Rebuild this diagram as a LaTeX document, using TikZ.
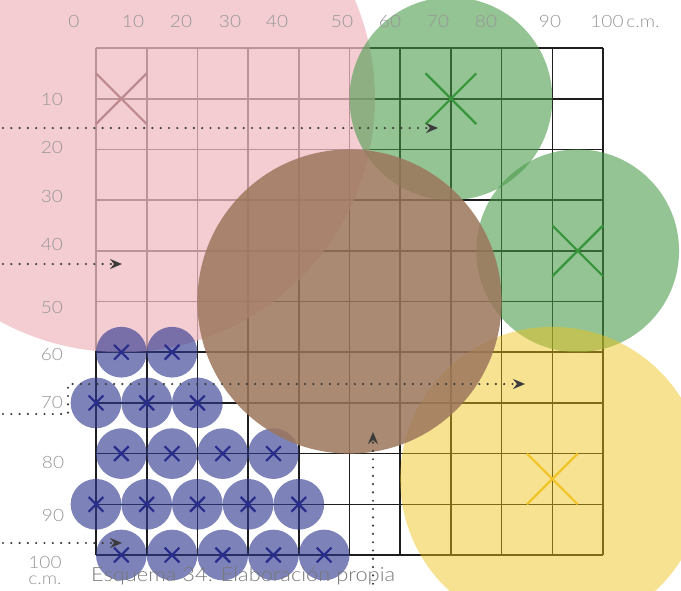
\documentclass[tikz,border=0pt]{standalone}
\usepackage{fontspec}
\setmainfont{Lato Light}[FakeStretch=1.12]
\usetikzlibrary{arrows.meta}
\definecolor{pinkc}{RGB}{239,188,195}
\definecolor{greenc}{RGB}{71,153,71}
\definecolor{brownc}{RGB}{156,118,92}
\definecolor{yellowc}{RGB}{236,194,20}
\definecolor{bluec}{RGB}{49,57,144}
\definecolor{pinkx}{RGB}{188,138,143}
\definecolor{greenx}{RGB}{55,150,60}
\definecolor{yellowx}{RGB}{242,196,40}
\definecolor{bluex}{RGB}{40,45,140}
\definecolor{labgray}{RGB}{150,150,150}
\definecolor{capgray}{RGB}{120,120,120}
\definecolor{dotc}{RGB}{60,60,60}
\definecolor{gridc}{RGB}{30,30,30}
\tikzset{
  lab/.style={text=labgray, inner sep=0pt, font=\fontsize{17}{18}\selectfont},
  gridline/.style={draw=gridc, line width=1.6pt},
  dotline/.style={draw=dotc, line width=2.4pt, line cap=round, dash pattern=on 0pt off 8.3pt,
    -{Stealth[length=12pt,width=10pt,inset=4pt]}},
  bigx/.pic={\draw[line width=2.2pt] (-5,-5) -- (5,5) (-5,5) -- (5,-5);},
  smallx/.pic={\draw[line width=2.2pt, bluex] (-1.45,-1.45) -- (1.45,1.45) (-1.45,1.45) -- (1.45,-1.45);},
}
\begin{document}
\begin{tikzpicture}[x=1pt,y=-1pt]
\useasboundingbox (0,0) rectangle (681,590);
% grid and shapes
\begin{scope}[shift={(96,48)}, x=5.07pt, y=-5.07pt]
  \foreach \i in {0,10,...,100} {
    \draw[gridline] (\i,0) -- (\i,100);
    \draw[gridline] (0,\i) -- (100,\i);
  }
  \fill[pinkc, opacity=0.75] (5,10) circle[radius=253.5pt];
  \fill[greenc, opacity=0.58] (70,10) circle[radius=101.4pt];
  \fill[greenc, opacity=0.58] (95,40) circle[radius=101.4pt];
  \fill[yellowc, opacity=0.47] (90,85) circle[radius=152.1pt];
  \foreach \p in {(5,60),(15,60),(0,70),(10,70),(20,70),(5,80),(15,80),(25,80),(35,80),
                  (0,90),(10,90),(20,90),(30,90),(40,90),(5,100),(15,100),(25,100),(35,100),(45,100)}
    \fill[bluec, opacity=0.63] \p circle[radius=25.35pt];
  \fill[brownc, opacity=0.85] (50,50) circle[radius=152.1pt];
  \pic[pinkx] at (5,10) {bigx};
  \pic[greenx] at (70,10) {bigx};
  \pic[greenx] at (95,40) {bigx};
  \pic[yellowx] at (90,85) {bigx};
  \foreach \p in {(5,60),(15,60),(0,70),(10,70),(20,70),(5,80),(15,80),(25,80),(35,80),
                  (0,90),(10,90),(20,90),(30,90),(40,90),(5,100),(15,100),(25,100),(35,100),(45,100)}
    \pic at \p {smallx};
\end{scope}
% dotted arrows
\coordinate (a1s) at (3,128);  \coordinate (a1e) at (438,128);
\coordinate (a2s) at (3,264);  \coordinate (a2e) at (122,264);
\coordinate (a3s) at (3,414);  \coordinate (a3m) at (68,414); \coordinate (a3n) at (68,384); \coordinate (a3e) at (525,384);
\coordinate (a4s) at (3,543);  \coordinate (a4e) at (122,543);
\coordinate (a5s) at (373,592); \coordinate (a5e) at (373,432);
\draw[dotline] (a1s) -- (a1e);
\draw[dotline] (a2s) -- (a2e);
\draw[dotline] (a3s) -- (a3m) -- (a3n) -- (a3e);
\draw[dotline] (a4s) -- (a4e);
\draw[dotline] (a5s) -- (a5e);
% top labels
\node[lab] (t0) at (74,21) {0};
\node[lab] (t10) at (133,21) {10};
\node[lab] (t20) at (181,21) {20};
\node[lab] (t30) at (230,21) {30};
\node[lab] (t40) at (277,21) {40};
\node[lab] (t50) at (342,21) {50};
\node[lab] (t60) at (390,21) {60};
\node[lab] (t70) at (438,21) {70};
\node[lab] (t80) at (486,21) {80};
\node[lab] (t90) at (550,21) {90};
\node[lab] (t100) at (625,21) {100\,c.m.};
% left labels
\node[lab] (l10) at (52,99) {10};
\node[lab] (l20) at (52,147) {20};
\node[lab] (l30) at (52,196) {30};
\node[lab] (l40) at (52,244) {40};
\node[lab] (l50) at (52,307) {50};
\node[lab] (l60) at (52,354) {60};
\node[lab] (l70) at (52,402) {70};
\node[lab] (l80) at (53,462) {80};
\node[lab] (l90) at (53,515) {90};
\node[lab] (l100) at (45,562) {100};
\node[lab] (lcm) at (45,580) {c.m.};
% caption
\node[text=capgray, inner sep=0pt, anchor=west, font=\fontsize{19.5}{21}\selectfont] (cap) at (91,576) {Esquema 34. Elaboración propia};
\end{tikzpicture}
\end{document}
